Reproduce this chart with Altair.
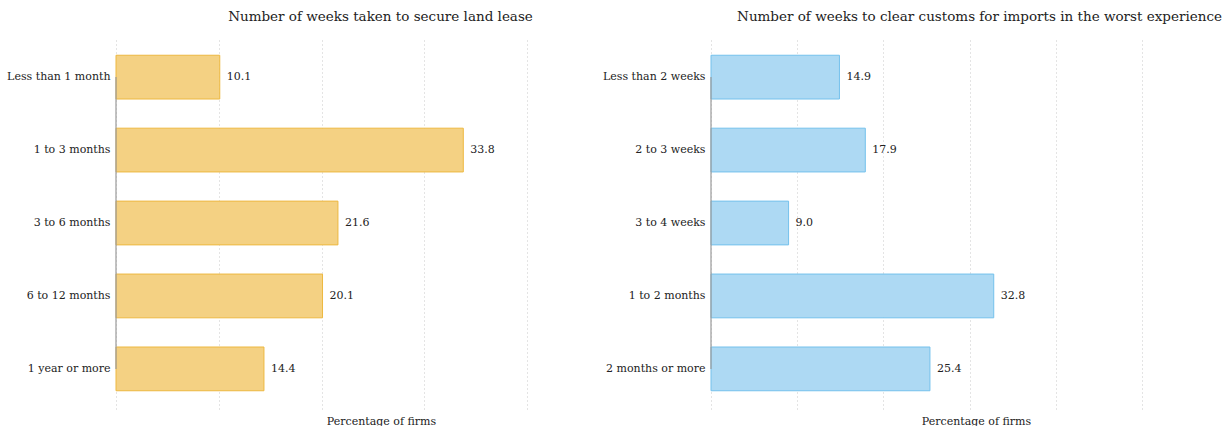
import altair as alt
import pandas as pd

# Survey results: share of firms by duration bucket
lease_cats = ["Less than 1 month", "1 to 3 months", "3 to 6 months", "6 to 12 months", "1 year or more"]
lease_vals = [10.1, 33.8, 21.6, 20.1, 14.4]

customs_cats = ["Less than 2 weeks", "2 to 3 weeks", "3 to 4 weeks", "1 to 2 months", "2 months or more"]
customs_vals = [14.9, 17.9, 9.0, 32.8, 25.4]

FONT = "DejaVu Serif"
TEXT_COLOR = "#222222"


def panel(cats, vals, title, fill, stroke, xmax, width, title_dx):
    df = pd.DataFrame({"cat": cats, "val": vals})
    y_scale = alt.Scale(domain=cats, paddingInner=0.4, paddingOuter=0.25)

    x = alt.X(
        "val:Q",
        title="Percentage of firms",
        scale=alt.Scale(domain=[0, xmax], nice=False),
        axis=alt.Axis(
            labels=False, ticks=False, domain=False, grid=True,
            values=list(range(0, xmax + 1, 10)),
            gridDash=[1, 3], gridColor="#c8c8c8", gridWidth=1,
            titleFont=FONT, titleFontSize=11, titleFontWeight="normal",
            titleColor=TEXT_COLOR, titleX=265, titleAlign="center", titlePadding=6,
        ),
    )
    y = alt.Y(
        "cat:N", title=None, scale=y_scale,
        axis=alt.Axis(
            domain=False, ticks=False, grid=False, labelPadding=6,
            labelFont=FONT, labelFontSize=11, labelColor=TEXT_COLOR, labelLimit=200,
        ),
    )

    base = alt.Chart(df)
    bars = base.mark_bar(fill=fill, stroke=stroke, strokeWidth=1).encode(x=x, y=y)
    labels = base.mark_text(
        align="left", baseline="middle", dx=7, font=FONT, fontSize=11, color=TEXT_COLOR
    ).encode(
        x="val:Q",
        y=alt.Y("cat:N", scale=y_scale),
        text=alt.Text("val:Q", format=".1f"),
    )

    # baseline axis line running between the first and last category centres
    axis_df = pd.DataFrame({"cat": [cats[0]], "cat_end": [cats[-1]], "zero": [0]})
    axis_line = alt.Chart(axis_df).mark_rule(color="#9a9a9a", strokeWidth=1.2).encode(
        x="zero:Q",
        y=alt.Y("cat:N", scale=y_scale, bandPosition=0.5),
        y2=alt.Y2("cat_end", bandPosition=0.5),
    )

    return alt.layer(bars, axis_line, labels).properties(
        width=width,
        height=372,
        title=alt.TitleParams(
            text=title, font=FONT, fontSize=13.5, fontWeight="normal",
            color=TEXT_COLOR, anchor="middle", dx=title_dx, offset=14,
        ),
    )


left = panel(
    lease_cats, lease_vals, "Number of weeks taken to secure land lease",
    "#F4D183", "#EDB840", 40, 411, 59,
)
right = panel(
    customs_cats, customs_vals, "Number of weeks to clear customs for imports in the worst experience",
    "#ADD9F3", "#74C1EC", 50, 431, 53,
)

chart = alt.hconcat(left, right, spacing=184, bounds="flush").properties(
    padding={"left": 6, "top": 9, "right": 0, "bottom": 0}
).configure_view(strokeWidth=0)

chart.save("out.html", embed_options={"renderer": "svg", "actions": False})
